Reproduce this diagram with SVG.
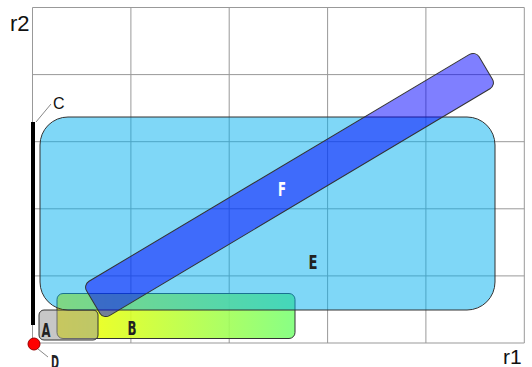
<svg xmlns="http://www.w3.org/2000/svg" width="532" height="367" viewBox="0 0 532 367">
<defs>
<linearGradient id="gB" x1="0" y1="0" x2="1" y2="0">
<stop offset="0" stop-color="#ffff00"/>
<stop offset="1" stop-color="#7cff78"/>
</linearGradient>
<style>
.grid{stroke:#999;stroke-width:1;fill:none}
.lbl{font-family:"Liberation Sans Narrow","DejaVu Sans Condensed",sans-serif;font-size:20px;font-weight:bold;fill:#222;text-anchor:middle}
.ax{font-family:"Liberation Sans",Arial,sans-serif;fill:#111}
.lead{stroke:#888;stroke-width:1}
.shape{stroke:#333;stroke-width:1}
</style>
</defs>
<rect width="532" height="367" fill="#fff"/>
<g id="grid" class="grid">
<line x1="32.5" y1="7.5" x2="524.3" y2="7.5"/>
<line x1="32.5" y1="74.6" x2="524.3" y2="74.6"/>
<line x1="32.5" y1="141.7" x2="524.3" y2="141.7"/>
<line x1="32.5" y1="208.8" x2="524.3" y2="208.8"/>
<line x1="32.5" y1="275.9" x2="524.3" y2="275.9"/>
<line x1="32.5" y1="343" x2="524.3" y2="343"/>
<line x1="32.5" y1="7.5" x2="32.5" y2="343"/>
<line x1="130.9" y1="7.5" x2="130.9" y2="343"/>
<line x1="229.2" y1="7.5" x2="229.2" y2="343"/>
<line x1="327.6" y1="7.5" x2="327.6" y2="343"/>
<line x1="425.9" y1="7.5" x2="425.9" y2="343"/>
<line x1="524.3" y1="7.5" x2="524.3" y2="343"/>
</g>
<text class="ax" x="10" y="31" font-size="22">r2</text>
<text class="ax" x="503" y="364" font-size="21">r1</text>
<g id="B">
<rect class="shape" x="57" y="293.5" width="238" height="45" rx="6" fill="url(#gB)" fill-opacity="0.9"/>
<text class="lbl" x="132" y="335" textLength="9" lengthAdjust="spacingAndGlyphs">B</text>
</g>
<g id="A">
<rect class="shape" x="39" y="310" width="59" height="30" rx="5" fill="#999" fill-opacity="0.55"/>
<text class="lbl" x="46" y="337" textLength="9" lengthAdjust="spacingAndGlyphs">A</text>
</g>
<g id="E">
<rect class="shape" x="40" y="117" width="455" height="193" rx="28" fill="#00b0f0" fill-opacity="0.5"/>
<text class="lbl" x="313" y="269" textLength="9" lengthAdjust="spacingAndGlyphs">E</text>
</g>
<g id="F">
<rect class="shape" x="61" y="165" width="457" height="40" rx="7" fill="#0000ff" fill-opacity="0.5" transform="rotate(-30.8 289.5 185)"/>
<text class="lbl" x="282" y="196" style="fill:#fff" textLength="8" lengthAdjust="spacingAndGlyphs">F</text>
</g>
<g id="C">
<rect x="31" y="122" width="4" height="203" fill="#000"/>
<line class="lead" x1="36" y1="122" x2="51" y2="104"/>
<text class="ax" x="53" y="109" font-size="16">C</text>
</g>
<g id="D">
<line class="lead" x1="38" y1="349" x2="48" y2="357"/>
<circle cx="34" cy="344" r="6" fill="#f00" stroke="#900" stroke-width="1"/>
<text class="lbl" x="55" y="369" textLength="8" lengthAdjust="spacingAndGlyphs">D</text>
</g>
</svg>
